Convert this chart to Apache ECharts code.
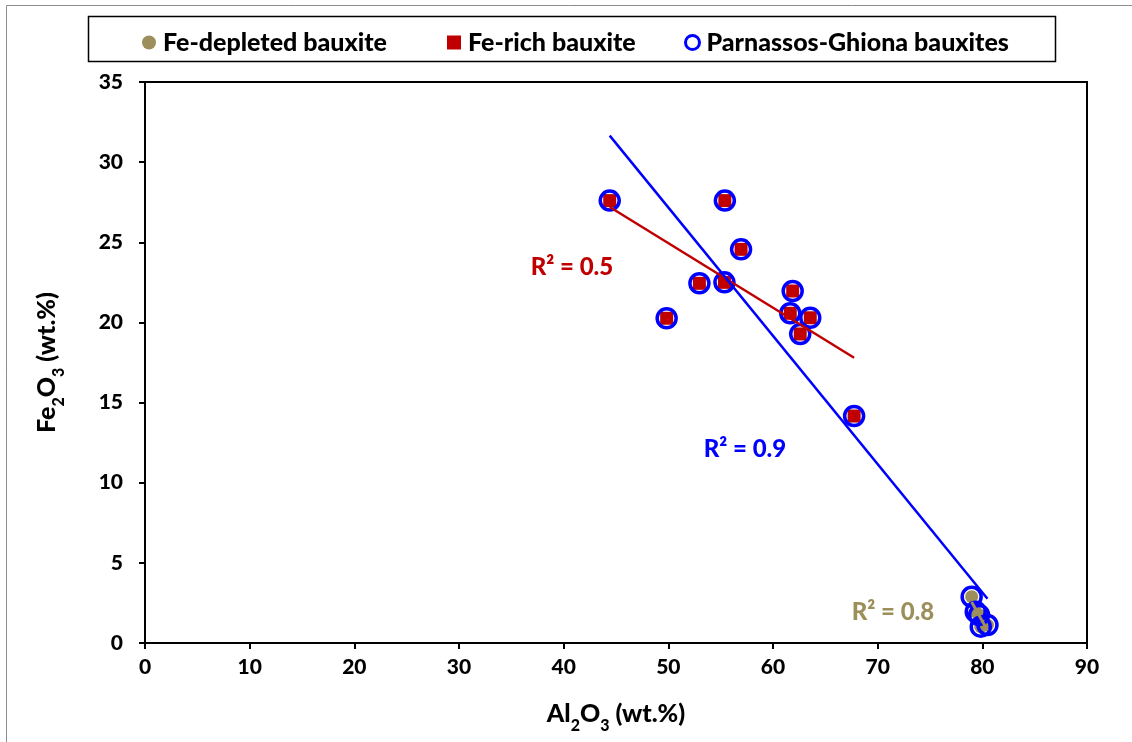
<!DOCTYPE html>
<html>
<head>
<meta charset="utf-8">
<script src="https://cdn.jsdelivr.net/npm/echarts@6/dist/echarts.min.js"></script>
<style>
  html, body { margin: 0; padding: 0; background: #fff; }
  #chart { width: 1132px; height: 742px; }
</style>
</head>
<body>
<div id="chart"></div>
<script>
// Al2O3 / Fe2O3 (wt.%) of the bauxite samples
const feRichAl2O3 = [44.4, 55.4, 56.95, 52.97, 55.36, 49.84, 61.88, 61.65, 63.56, 62.6, 67.75];
const feRichFe2O3 = [27.6, 27.6, 24.56, 22.44, 22.5, 20.26, 21.96, 20.57, 20.29, 19.28, 14.16];
const feDepAl2O3 = [78.98, 79.37, 79.69, 79.85, 80.49];
const feDepFe2O3 = [2.89, 1.95, 1.75, 1.02, 1.12];

const seriesNames = ['Fe-depleted bauxite', 'Fe-rich bauxite', 'Parnassos-Ghiona bauxites'];
const xTicks = [0, 10, 20, 30, 40, 50, 60, 70, 80, 90];
const yTicks = [0, 5, 10, 15, 20, 25, 30, 35];

const COLORS = { gold: '#9C8F5B', red: '#C00000', blue: '#0000FF' };
const FONT = 'Lato';
const WEIGHT = 900;

function pairs(xs, ys) { return xs.map((x, i) => [x, ys[i]]); }

// least-squares linear fit, returns endpoints over the data range and R²
function linearFit(xs, ys) {
  const n = xs.length;
  const mx = xs.reduce((a, b) => a + b, 0) / n;
  const my = ys.reduce((a, b) => a + b, 0) / n;
  let sxy = 0, sxx = 0, syy = 0;
  for (let i = 0; i < n; i++) {
    sxy += (xs[i] - mx) * (ys[i] - my);
    sxx += (xs[i] - mx) ** 2;
    syy += (ys[i] - my) ** 2;
  }
  const slope = sxy / sxx;
  const icpt = my - slope * mx;
  const x0 = Math.min(...xs), x1 = Math.max(...xs);
  return {
    line: [[x0, icpt + slope * x0], [x1, icpt + slope * x1]],
    r2: (sxy * sxy) / (sxx * syy)
  };
}

const allAl2O3 = feRichAl2O3.concat(feDepAl2O3);
const allFe2O3 = feRichFe2O3.concat(feDepFe2O3);

const fitDep = linearFit(feDepAl2O3, feDepFe2O3);
const fitRich = linearFit(feRichAl2O3, feRichFe2O3);
const fitAll = linearFit(allAl2O3, allFe2O3);

const chart = echarts.init(document.getElementById('chart'), null, { renderer: 'canvas' });

const tickFont = { fontFamily: FONT, fontWeight: WEIGHT, fontSize: 21, color: '#000' };
const titleRich = {
  b: { fontFamily: FONT, fontWeight: WEIGHT, fontSize: 25, color: '#000' },
  s: { fontFamily: FONT, fontWeight: WEIGHT, fontSize: 16, color: '#000', verticalAlign: 'bottom', padding: [0, 0, -8, 0] }
};

function legendAt(left, name, icon, style) {
  return {
    left: left, top: 25, itemWidth: 14, itemHeight: 14, itemGap: 0,
    data: [{ name: name, icon: icon, itemStyle: style }],
    textStyle: { fontFamily: FONT, fontWeight: WEIGHT, fontSize: 25, color: '#000', padding: [0, 0, 0, 2] },
    selectedMode: false
  };
}

function r2Text(fit, color, cx, cy) {
  return {
    type: 'text', x: cx, y: cy, z: 100,
    style: {
      text: 'R² = ' + fit.r2.toFixed(1),
      fill: color, font: WEIGHT + ' 24px ' + FONT,
      textAlign: 'center', textVerticalAlign: 'middle'
    }
  };
}

chart.setOption({
  animation: false,
  backgroundColor: '#fff',
  grid: { left: 145, right: 45, top: 82, bottom: 99, show: true, borderColor: '#000', borderWidth: 2 },
  legend: [
    legendAt(137, seriesNames[0], 'circle', { color: COLORS.gold }),
    legendAt(442, seriesNames[1], 'rect', { color: COLORS.red }),
    legendAt(679, seriesNames[2], 'circle', { color: '#fff', borderColor: COLORS.blue, borderWidth: 3 })
  ],
  xAxis: {
    type: 'value', min: xTicks[0], max: xTicks[xTicks.length - 1], interval: 10,
    name: '{b|Al}{s|2}{b|O}{s|3}{b| (wt.%)}', nameLocation: 'middle', nameGap: 58,
    nameTextStyle: { rich: titleRich },
    axisLine: { lineStyle: { color: '#000', width: 2 } },
    axisTick: { show: true, inside: false, length: 6, lineStyle: { color: '#000', width: 2 } },
    axisLabel: Object.assign({ margin: 14 }, tickFont),
    splitLine: { show: false }
  },
  yAxis: {
    type: 'value', min: yTicks[0], max: yTicks[yTicks.length - 1], interval: 5,
    name: '{b|Fe}{s|2}{b|O}{s|3}{b| (wt.%)}', nameLocation: 'middle', nameGap: 86, nameRotate: 90,
    nameTextStyle: { rich: titleRich },
    axisLine: { lineStyle: { color: '#000', width: 2 } },
    axisTick: { show: true, inside: false, length: 6, lineStyle: { color: '#000', width: 2 } },
    axisLabel: Object.assign({ margin: 22 }, tickFont),
    splitLine: { show: false }
  },
  graphic: [
    { type: 'rect', shape: { x: 6.5, y: 5.5, width: 1200, height: 800 }, style: { fill: 'none', stroke: '#8c8c8c', lineWidth: 1 }, silent: true, z: 0 },
    { type: 'rect', shape: { x: 88.5, y: 16.5, width: 967, height: 45 }, style: { fill: 'none', stroke: '#000', lineWidth: 1.5 }, silent: true, z: 0 },
    r2Text(fitRich, COLORS.red, 572, 267),
    r2Text(fitAll, COLORS.blue, 745, 449),
    r2Text(fitDep, COLORS.gold, 893, 612)
  ],
  series: [
    {
      name: seriesNames[0], type: 'scatter', symbol: 'circle', symbolSize: 13,
      itemStyle: { color: COLORS.gold, opacity: 1 },
      data: pairs(feDepAl2O3, feDepFe2O3), z: 2
    },
    {
      name: seriesNames[1], type: 'scatter', symbol: 'rect', symbolSize: 13,
      itemStyle: { color: COLORS.red, opacity: 1 },
      data: pairs(feRichAl2O3, feRichFe2O3), z: 3
    },
    {
      name: seriesNames[2], type: 'scatter', symbol: 'circle', symbolSize: 19,
      itemStyle: { color: 'rgba(0,0,0,0)', borderColor: COLORS.blue, borderWidth: 3.5, opacity: 1 },
      data: pairs(allAl2O3, allFe2O3), z: 4
    },
    {
      name: 'trend-rich', type: 'line', data: fitRich.line, showSymbol: false, symbol: 'none',
      lineStyle: { color: COLORS.red, width: 2.5 }, z: 5, silent: true
    },
    {
      name: 'trend-all', type: 'line', data: fitAll.line, showSymbol: false, symbol: 'none',
      lineStyle: { color: COLORS.blue, width: 2.5 }, z: 5, silent: true
    },
    {
      name: 'trend-depleted', type: 'line', data: fitDep.line, showSymbol: false, symbol: 'none',
      lineStyle: { color: COLORS.gold, width: 3 }, z: 5, silent: true
    }
  ]
});
</script>
</body>
</html>
